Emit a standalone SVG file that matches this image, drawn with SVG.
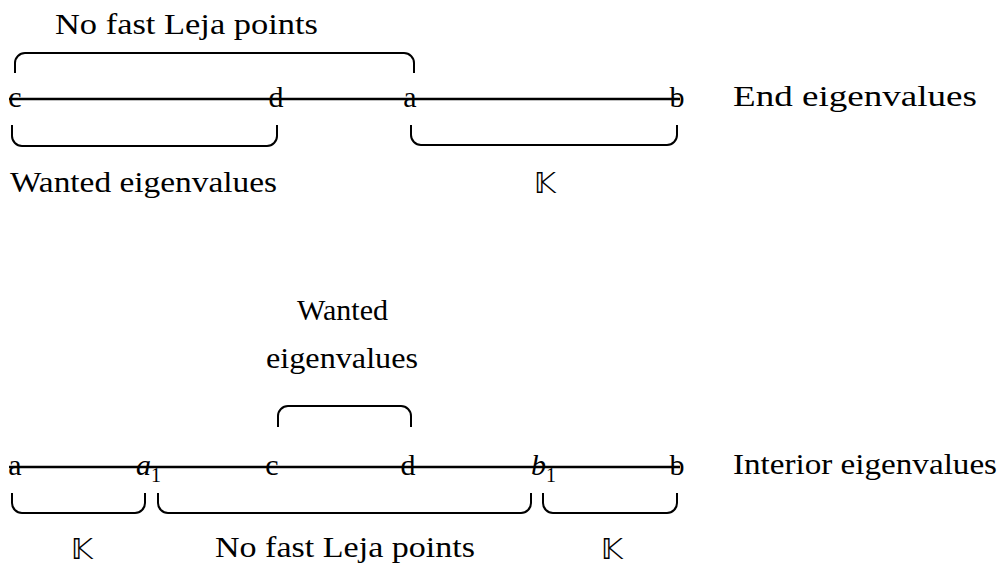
<svg xmlns="http://www.w3.org/2000/svg" width="1001" height="568" viewBox="0 0 1001 568">
<style>
text{font-family:"Liberation Serif","DejaVu Serif",serif;font-size:30px;fill:#000}
.pt{text-anchor:middle}
.bb{font-family:"DejaVu Sans","DejaVu Serif",serif;font-size:29px;text-anchor:middle}
.sub{font-size:20px}
.ln{stroke:#000;stroke-width:2.5;fill:none}
.br{stroke:#000;stroke-width:2;fill:none}
</style>
<rect width="1001" height="568" fill="#fff"/>
<g id="connectors">
<line class="ln" x1="9" y1="99" x2="680" y2="99"/>
<line class="ln" x1="9" y1="467" x2="680" y2="467"/>
<path class="br" d="M15 73V63A10 10 0 0 1 25 53H404A10 10 0 0 1 414 63V73"/>
<path class="br" d="M12 125V136A10 10 0 0 0 22 146H267A10 10 0 0 0 277 136V125"/>
<path class="br" d="M411 125V135A10 10 0 0 0 421 145H667A10 10 0 0 0 677 135V125"/>
<path class="br" d="M278 427V416A10 10 0 0 1 288 406H401A10 10 0 0 1 411 416V427"/>
<path class="br" d="M12 493V503A10 10 0 0 0 22 513H135A10 10 0 0 0 145 503V493"/>
<path class="br" d="M158 493V503A10 10 0 0 0 168 513H521A10 10 0 0 0 531 503V493"/>
<path class="br" d="M543 493V503A10 10 0 0 0 553 513H667A10 10 0 0 0 677 503V493"/>
</g>
<g id="top-points">
<text class="pt" x="15" y="107">c</text>
<text class="pt" x="276" y="107">d</text>
<text class="pt" x="410" y="107">a</text>
<text class="pt" x="677" y="107">b</text>
</g>
<g id="top-labels">
<text x="55" y="34" textLength="263" lengthAdjust="spacingAndGlyphs">No fast Leja points</text>
<text x="10" y="192" textLength="267" lengthAdjust="spacingAndGlyphs">Wanted eigenvalues</text>
<text class="bb" x="545" y="193">𝕂</text>
<text x="733" y="106" textLength="244" lengthAdjust="spacingAndGlyphs">End eigenvalues</text>
</g>
<g id="bottom-points">
<text class="pt" x="15" y="475">a</text>
<text x="136" y="475" font-style="italic">a</text>
<text class="sub" x="151" y="482">1</text>
<text class="pt" x="272" y="475">c</text>
<text class="pt" x="408" y="475">d</text>
<text x="531" y="475" font-style="italic">b</text>
<text class="sub" x="546" y="482">1</text>
<text class="pt" x="677" y="475">b</text>
</g>
<g id="bottom-labels">
<text x="297" y="320" textLength="91" lengthAdjust="spacingAndGlyphs">Wanted</text>
<text x="266" y="368" textLength="152" lengthAdjust="spacingAndGlyphs">eigenvalues</text>
<text class="bb" x="82" y="559">𝕂</text>
<text x="215" y="557" textLength="260" lengthAdjust="spacingAndGlyphs">No fast Leja points</text>
<text class="bb" x="612" y="559">𝕂</text>
<text x="733" y="474" textLength="264" lengthAdjust="spacingAndGlyphs">Interior eigenvalues</text>
</g>
</svg>
